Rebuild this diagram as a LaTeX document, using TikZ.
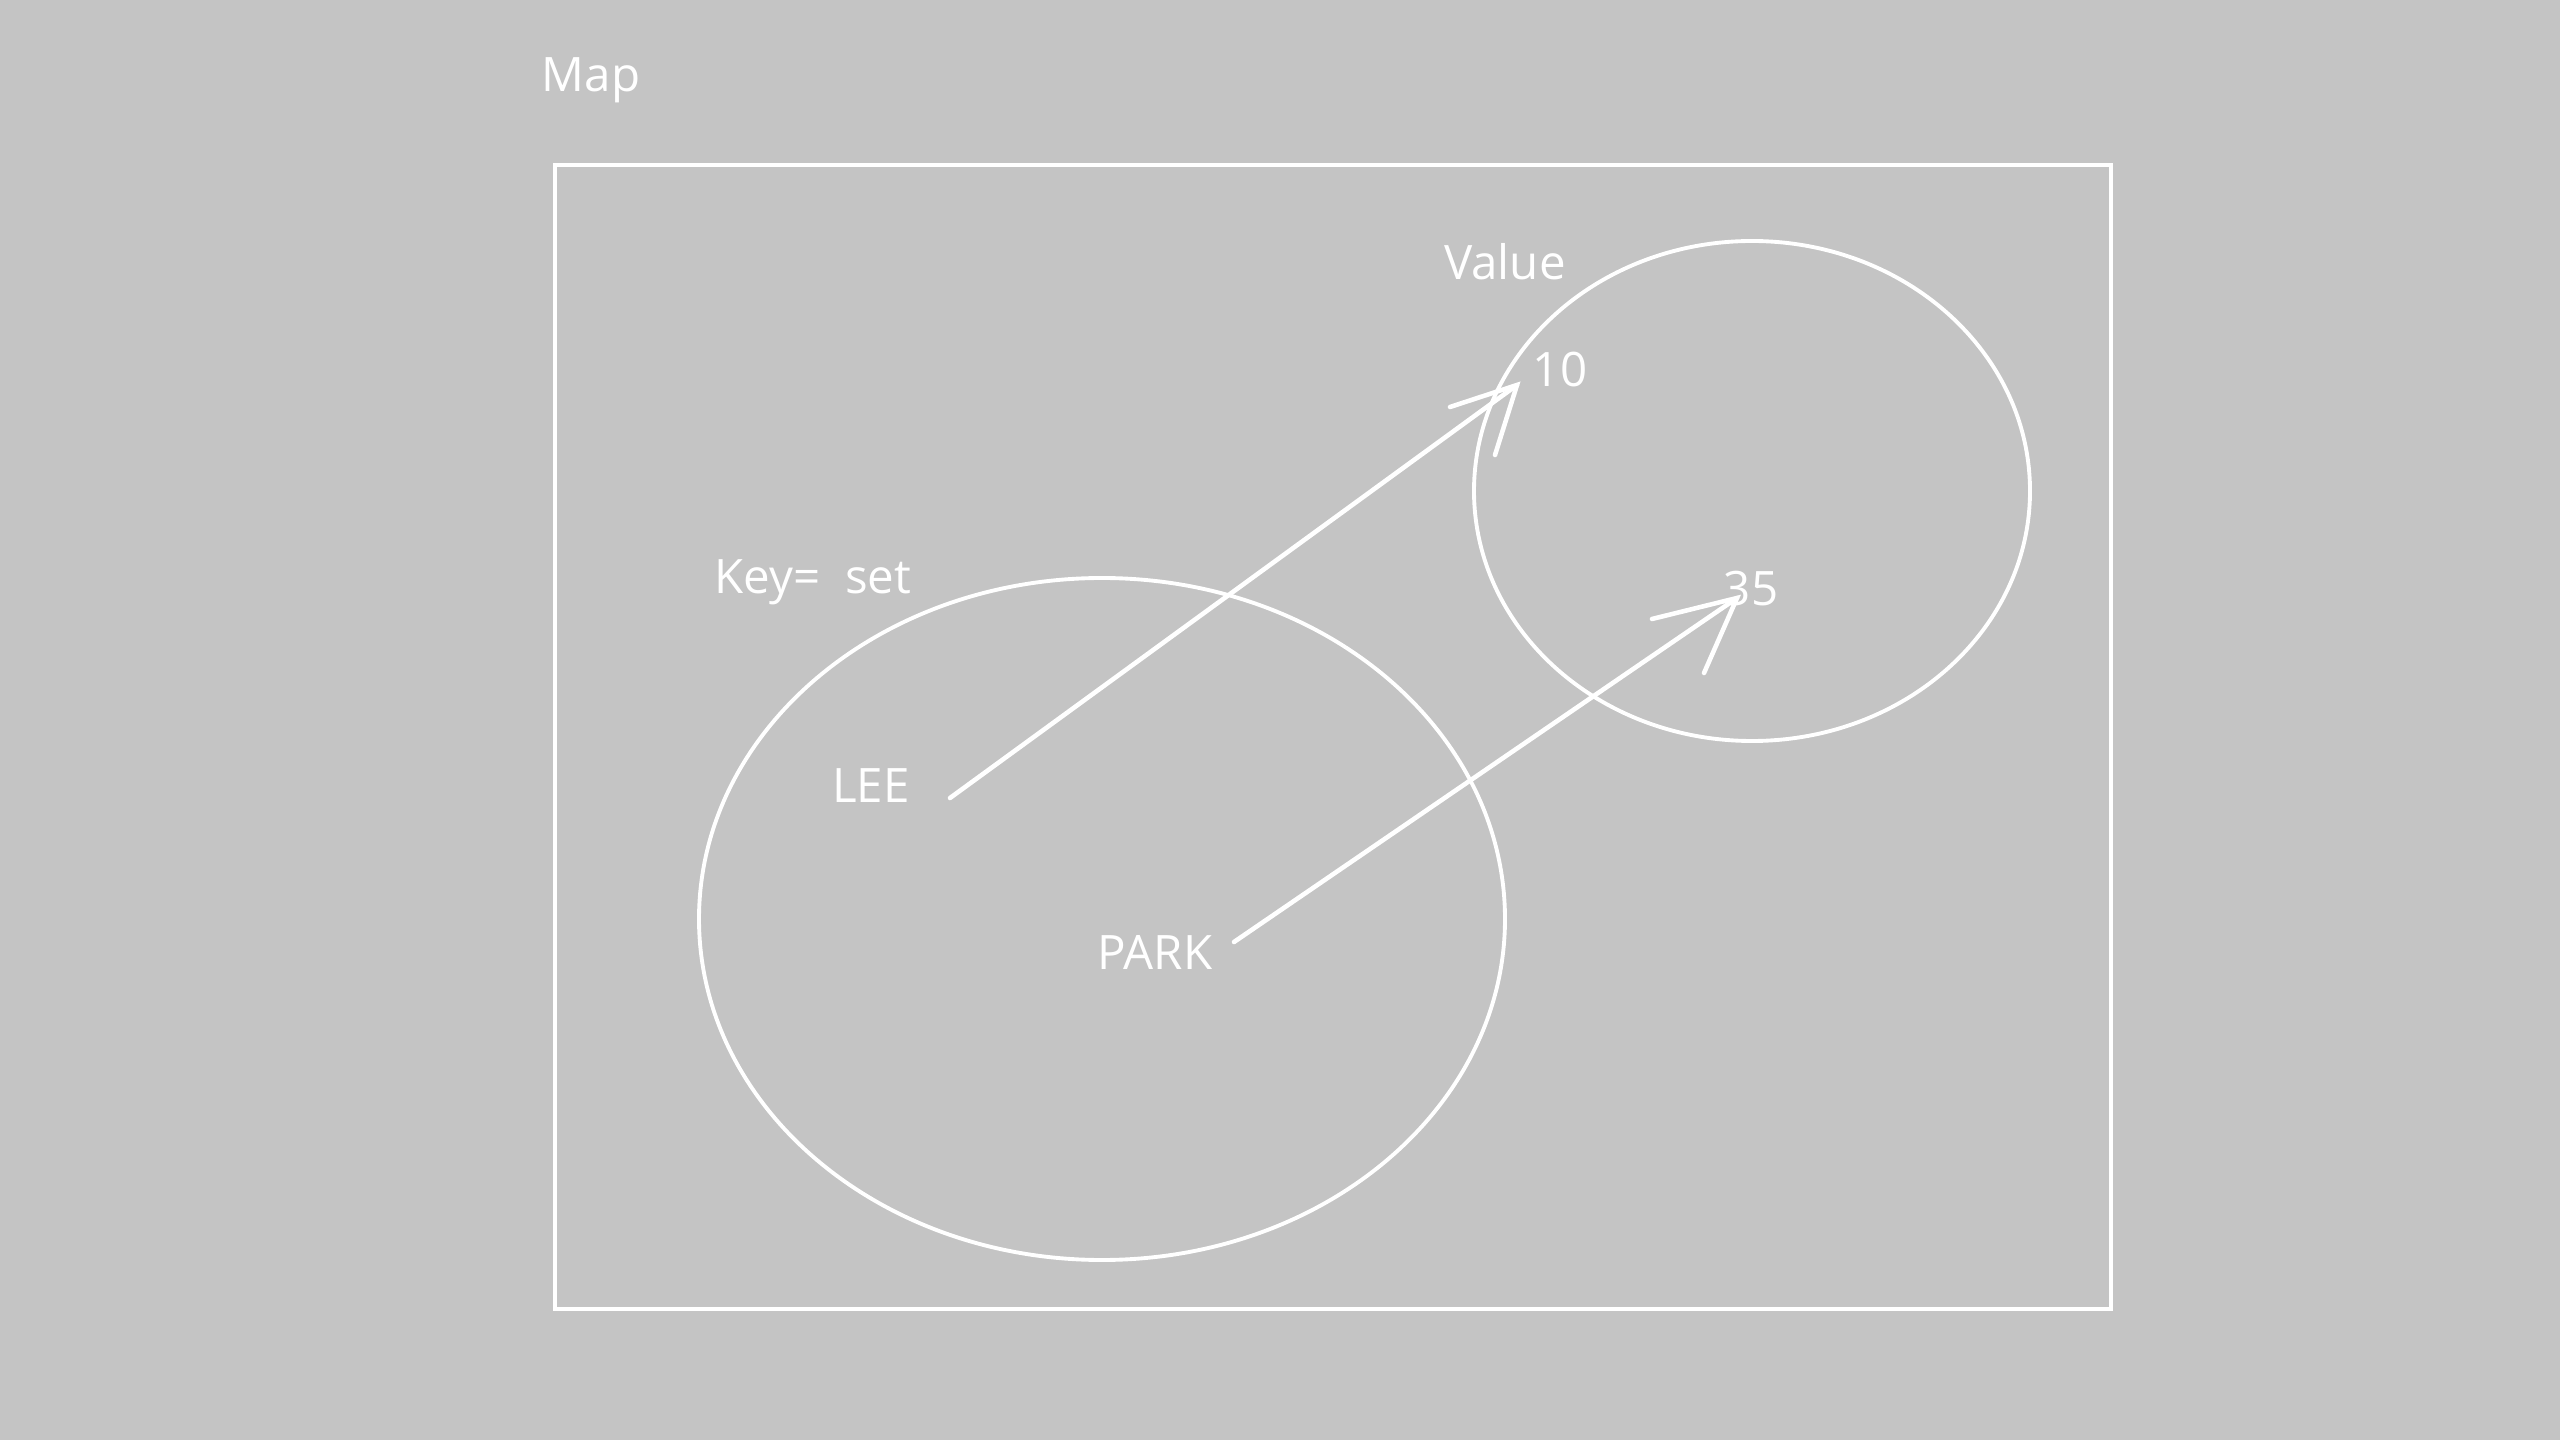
\documentclass[tikz,border=0pt]{standalone}
\usepackage{fontspec}
\setmainfont{Open Sans}
\definecolor{bg}{RGB}{196,196,196}
\begin{document}
\begin{tikzpicture}[x=0.01cm,y=-0.01cm,
  lbl/.style={text=white,font=\fontsize{13.5pt}{16pt}\selectfont,inner sep=0pt},
  shp/.style={draw=white,line width=1.1pt},
  arr/.style={draw=white,line width=1.3pt,line cap=round}]
\fill[bg] (0,0) rectangle (2560,1440);
\useasboundingbox (0,0) rectangle (2560,1440);
\draw[shp] (555,165) rectangle (2111,1309);
\draw[shp] (1102,919) ellipse [x radius=403, y radius=341];
\draw[shp] (1752,491) ellipse [x radius=278, y radius=250];
\node[lbl] (map) at (591,80) {Map};
\node[lbl] (value) at (1505,262) {Value};
\node[lbl] (key) at (813,582) {Key= \ set};
\node[lbl] (ten) at (1560,370) {10};
\node[lbl] (tf) at (1751,589) {35};
\node[lbl] (lee) at (871,786) {LEE};
\node[lbl] (park) at (1155,952) {PARK};
\coordinate (a1) at (950,798);
\coordinate (t1) at (1517,385);
\coordinate (h1a) at (1450,407);
\coordinate (h1b) at (1495,455);
\coordinate (a2) at (1234,942);
\coordinate (t2) at (1737,598);
\coordinate (h2a) at (1652,619);
\coordinate (h2b) at (1704,673);
\draw[arr] (a1) -- (t1);
\draw[arr] (h1a) -- (t1) -- (h1b);
\draw[arr] (a2) -- (t2);
\draw[arr] (h2a) -- (t2) -- (h2b);
\end{tikzpicture}
\end{document}
